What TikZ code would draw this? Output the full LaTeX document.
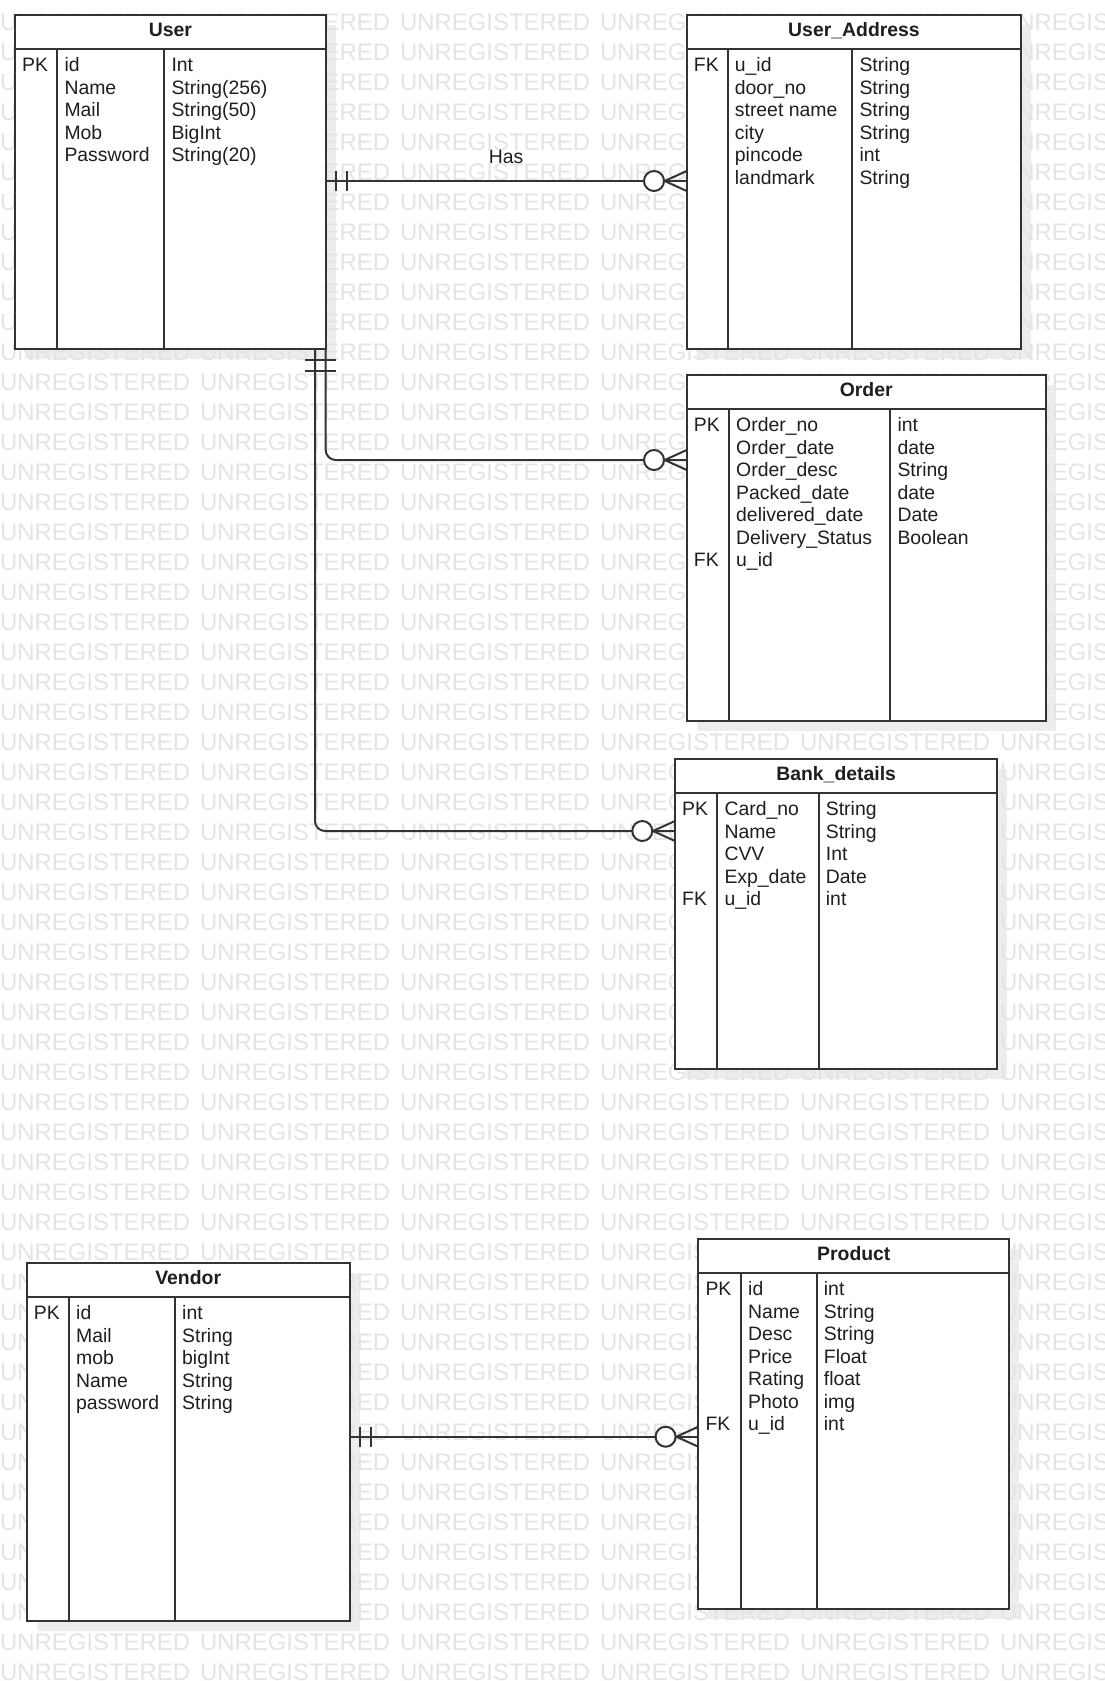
\documentclass[tikz,border=0pt]{standalone}
\usepackage{fontspec}
\setmainfont{Liberation Sans}
\usetikzlibrary{calc}

\pgfdeclarelayer{shadowlayer}
\pgfdeclarelayer{marklayer}
\pgfsetlayers{shadowlayer,marklayer,main}

\definecolor{ink}{HTML}{333333}
\definecolor{txt}{HTML}{1E1E1E}
\definecolor{shadowgray}{HTML}{EDEDED}
\definecolor{markgray}{HTML}{E4E4E4}

\tikzset{
  tbl/.style={rectangle, draw=ink, line width=2pt, fill=white, inner sep=0pt, outer sep=0pt},
  tblline/.style={draw=ink, line width=2pt},
  conn/.style={draw=ink, line width=2pt},
  celltext/.style={anchor=base west, inner sep=0pt, text=txt, font=\fontsize{19.4}{22.5}\selectfont},
  titletext/.style={anchor=base, inner sep=0pt, text=txt, font=\fontsize{19.4}{22.5}\selectfont\bfseries},
  lbltext/.style={anchor=base, inner sep=0pt, text=txt, font=\fontsize{19.4}{22.5}\selectfont},
  marktext/.style={anchor=base west, inner sep=0pt, text=markgray, font=\fontsize{23.9}{28}\selectfont},
  barsh/.pic={\draw[conn] (10.5,-10) -- (10.5,10) (21,-10) -- (21,10);},
  barsv/.pic={\draw[conn] (-10,10.7) -- (10,10.7) (-10,21.5) -- (10,21.5);},
  zeromany/.pic={\draw[conn] (-22,0) -- (0,-10) (-22,0) -- (0,10);
                 \draw[conn, fill=white] (-32.7,0) circle[radius=10pt];},
}

% one row of the background stamp
\newcommand\markrow{%
  \makebox[200pt][l]{UNREGISTERED}\makebox[200pt][l]{UNREGISTERED}%
  \makebox[200pt][l]{UNREGISTERED}\makebox[200pt][l]{UNREGISTERED}%
  \makebox[200pt][l]{UNREGISTERED}\makebox[200pt][l]{UNREGISTERED}}

% the three text columns of a table:
% name, left, top, first divider, second divider, keys, fields, types
\newcommand\entitycols[8]{%
  \node[celltext] (#1-keys) at (#2+7,#3+56.8)
    {\begin{tabular}[t]{@{}l@{}}#6\end{tabular}};
  \node[celltext] (#1-fields) at (#4+7,#3+56.8)
    {\begin{tabular}[t]{@{}l@{}}#7\end{tabular}};
  \node[celltext] (#1-types) at (#5+7,#3+56.8)
    {\begin{tabular}[t]{@{}l@{}}#8\end{tabular}};
}

% a table: name, left, top, right, bottom, divider 1, divider 2, title, {keys}{fields}{types}
\newcommand\entity[9]{%
  \node[tbl, anchor=north west, minimum width={#4-#2}, minimum height={#5-#3}]
    (#1) at (#2,#3) {};
  \begin{pgfonlayer}{shadowlayer}
    \fill[shadowgray] (#2+10,#3+10) rectangle (#4+10,#5+10);
  \end{pgfonlayer}
  \draw[tblline] (#2,#3+34.3) -- (#4,#3+34.3);
  \draw[tblline] (#6,#3+34.3) -- (#6,#5);
  \draw[tblline] (#7,#3+34.3) -- (#7,#5);
  \node[titletext] (#1-title) at ({(#2+#4)/2},#3+21.7) {#8};
  \entitycols{#1}{#2}{#3}{#6}{#7}#9
}

\begin{document}
\begin{tikzpicture}[x=1pt,y=-1pt]
\useasboundingbox (0,0) rectangle (1105,1681);

\begin{pgfonlayer}{shadowlayer}
  \fill[white] (0,0) rectangle (1105,1681);
\end{pgfonlayer}

% background stamp
\begin{pgfonlayer}{marklayer}
  \foreach \r in {0,...,55}{
    \node[marktext] (mark\r) at (0,{30+30*\r}) {\markrow};
  }
\end{pgfonlayer}

% tables
\entity{user}{15}{15}{325.7}{349}{57.3}{164.3}{User}
  {{PK}{id\\Name\\Mail\\Mob\\Password}{Int\\String(256)\\String(50)\\BigInt\\String(20)}}

\entity{addr}{686.7}{15}{1021.3}{349}{727.7}{852.3}{User\_Address}
  {{FK}{u\_id\\door\_no\\street name\\city\\pincode\\landmark}{String\\String\\String\\String\\int\\String}}

\entity{order}{686.7}{375}{1045.7}{721}{729}{890.3}{Order}
  {{PK\\ \\ \\ \\ \\ \\FK}{Order\_no\\Order\_date\\Order\_desc\\Packed\_date\\delivered\_date\\Delivery\_Status\\u\_id}{int\\date\\String\\date\\Date\\Boolean}}

\entity{bank}{675}{759}{997.3}{1069}{717.3}{818.7}{Bank\_details}
  {{PK\\ \\ \\ \\FK}{Card\_no\\Name\\CVV\\Exp\_date\\u\_id}{String\\String\\Int\\Date\\int}}

\entity{vendor}{26.7}{1262.7}{349.7}{1621}{69}{175}{Vendor}
  {{PK}{id\\Mail\\mob\\Name\\password}{int\\String\\bigInt\\String\\String}}

\entity{product}{698.3}{1239}{1009.3}{1609.3}{741}{816.7}{Product}
  {{PK\\ \\ \\ \\ \\ \\FK}{id\\Name\\Desc\\Price\\Rating\\Photo\\u\_id}{int\\String\\String\\Float\\float\\img\\int}}

% rows where the relationship lines run
\coordinate (hasrow) at (0,181);
\coordinate (ordrow) at (0,460);
\coordinate (bankrow) at (0,831);
\coordinate (vprow) at (0,1436.7);
\coordinate (bankdrop) at ([xshift=-10.7pt]user.south east);

% relationships
\draw[conn] (user.east |- hasrow) -- node[lbltext, midway, yshift=18pt] (haslbl) {Has} (addr.west |- hasrow);
\draw[conn, rounded corners=10pt] (user.south east) |- (order.west |- ordrow);
\draw[conn, rounded corners=10pt] (bankdrop) |- (bank.west |- bankrow);
\draw[conn] (vendor.east |- vprow) -- (product.west |- vprow);

% cardinality ends
\pic at (user.east |- hasrow) {barsh};
\pic at (addr.west |- hasrow) {zeromany};
\pic at (user.south east) {barsv};
\pic at (bankdrop) {barsv};
\pic at (order.west |- ordrow) {zeromany};
\pic at (bank.west |- bankrow) {zeromany};
\pic at (vendor.east |- vprow) {barsh};
\pic at (product.west |- vprow) {zeromany};

\end{tikzpicture}
\end{document}
